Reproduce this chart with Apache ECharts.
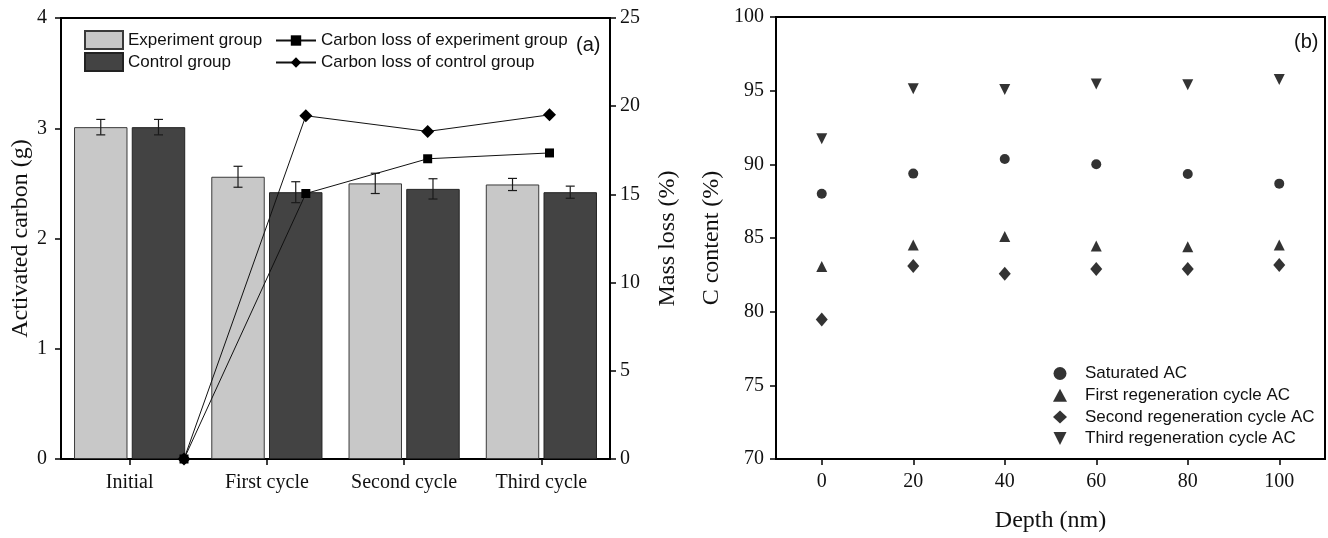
<!DOCTYPE html>
<html><head><meta charset="utf-8">
<script src="https://cdn.jsdelivr.net/npm/echarts@6/dist/echarts.min.js"></script>
<style>html,body{margin:0;padding:0;background:#fff}#c{width:1328px;height:538px}</style>
</head><body><div id="c"></div><script>
// ---- panel (a) data ----
const cycles = ['Initial', 'First cycle', 'Second cycle', 'Third cycle'];
const expMass = [3.01, 2.56, 2.50, 2.49];
const expErr = [0.07, 0.095, 0.092, 0.055];
const ctrlMass = [3.01, 2.42, 2.45, 2.42];
const ctrlErr = [0.07, 0.095, 0.092, 0.055];
const expLoss = [0, 15.05, 17.02, 17.35];
const ctrlLoss = [0, 19.46, 18.57, 19.51];
// ---- panel (b) data ----
const depth = [0, 20, 40, 60, 80, 100];
const saturated = [88.0, 89.37, 90.36, 90.0, 89.34, 88.69];
const firstRegen = [83.07, 84.52, 85.1, 84.45, 84.4, 84.52];
const secondRegen = [79.46, 83.1, 82.57, 82.89, 82.89, 83.16];
const thirdRegen = [91.74, 95.13, 95.08, 95.46, 95.4, 95.75];
const depthTicks = [0, 20, 40, 60, 80, 100];

const SERIF = 'Liberation Serif, Times New Roman, serif';
const SANS = 'Liberation Sans, Arial, sans-serif';
const BAR_CAT_GAP = 0.19, BAR_GAP = 0.08;
const DOWN_TRI = 'path://M0,0L10,0L5,10Z';

function errRender(side) {
  return function (params, api) {
    const ci = api.value(0);
    const lo = api.coord([ci, api.value(1)]);
    const hi = api.coord([ci, api.value(2)]);
    const band = api.size([1, 0])[0];
    const bw = band * (1 - BAR_CAT_GAP) / (2 + BAR_GAP);
    const x = lo[0] + side * bw * (1 + BAR_GAP) / 2;
    const cap = 4.5;
    const st = { stroke: '#1a1a1a', lineWidth: 1.2 };
    return { type: 'group', children: [
      { type: 'line', shape: { x1: x, y1: hi[1], x2: x, y2: lo[1] }, style: st },
      { type: 'line', shape: { x1: x - cap, y1: hi[1], x2: x + cap, y2: hi[1] }, style: st },
      { type: 'line', shape: { x1: x - cap, y1: lo[1], x2: x + cap, y2: lo[1] }, style: st }
    ]};
  };
}

const axLine = { show: true, onZero: false, lineStyle: { color: '#000', width: 2 } };
const axTick = { show: true, length: 6, lineStyle: { color: '#000', width: 1.5 } };
const tickLbl = { fontFamily: SERIF, fontSize: 20, color: '#111' };
const nameStyle = { fontFamily: SERIF, fontSize: 24, color: '#111' };
const legText = { fontFamily: SANS, fontSize: 17, color: '#111' };

const chart = echarts.init(document.getElementById('c'));
chart.setOption({
  animation: false,
  backgroundColor: '#fff',
  grid: [
    { left: 61, right: 718, top: 18, bottom: 79, show: true, borderColor: '#000', borderWidth: 2, backgroundColor: 'transparent' },
    { left: 184, right: 778.5, top: 18, bottom: 79 },
    { left: 776, right: 3, top: 17, bottom: 78, show: true, borderColor: '#000', borderWidth: 2, backgroundColor: 'transparent' }
  ],
  legend: [
    { data: ['Experiment group', 'Control group'], left: 79, top: 25, orient: 'vertical', icon: 'rect',
      itemWidth: 38, itemHeight: 18, itemGap: 2, selectedMode: false, textStyle: legText },
    { data: ['Carbon loss of experiment group', 'Carbon loss of control group'], left: 270, top: 27, orient: 'vertical',
      itemWidth: 40, itemHeight: 13, itemGap: 5, selectedMode: false, textStyle: legText },
    { data: ['Saturated AC', 'First regeneration cycle AC', 'Second regeneration cycle AC', 'Third regeneration cycle AC'],
      left: 1048, top: 360, orient: 'vertical', itemWidth: 14, itemHeight: 13, itemGap: 4.7, selectedMode: false,
      textStyle: Object.assign({ padding: [0, 0, 0, 13] }, legText) }
  ],
  xAxis: [
    { gridIndex: 0, type: 'category', data: cycles, axisLine: axLine,
      axisTick: Object.assign({ alignWithLabel: true }, axTick), axisLabel: Object.assign({ margin: 14, interval: 0 }, tickLbl) },
    { gridIndex: 1, type: 'category', data: cycles, boundaryGap: false, show: false },
    { gridIndex: 2, type: 'value', min: -10, max: 110, name: 'Depth (nm)', nameLocation: 'middle', nameGap: 50,
      nameTextStyle: nameStyle, axisLine: axLine, splitLine: { show: false },
      axisTick: Object.assign({ customValues: depthTicks }, axTick),
      axisLabel: Object.assign({ margin: 13, customValues: depthTicks }, tickLbl) }
  ],
  yAxis: [
    { gridIndex: 0, type: 'value', min: 0, max: 4, interval: 1, name: 'Activated carbon (g)', nameLocation: 'middle', nameGap: 27,
      nameTextStyle: nameStyle, axisLine: axLine, axisTick: axTick, splitLine: { show: false }, axisLabel: Object.assign({ margin: 14 }, tickLbl) },
    { gridIndex: 0, type: 'value', position: 'right', min: 0, max: 25, interval: 5, name: 'Mass loss (%)', nameLocation: 'middle', nameGap: 46,
      nameTextStyle: nameStyle, axisLine: axLine, axisTick: axTick, splitLine: { show: false }, axisLabel: Object.assign({ margin: 10 }, tickLbl) },
    { gridIndex: 1, type: 'value', min: 0, max: 25, show: false, splitLine: { show: false } },
    { gridIndex: 2, type: 'value', min: 70, max: 100, interval: 5, name: 'C content (%)', nameLocation: 'middle', nameGap: 52,
      nameTextStyle: nameStyle, axisLine: axLine, axisTick: axTick, splitLine: { show: false }, axisLabel: Object.assign({ margin: 12 }, tickLbl) }
  ],
  graphic: [
    { type: 'text', left: 576, top: 35, style: { text: '(a)', font: '20px ' + SANS, fill: '#111' } },
    { type: 'text', left: 1294, top: 32, style: { text: '(b)', font: '20px ' + SANS, fill: '#111' } }
  ],
  series: [
    { name: 'Experiment group', type: 'bar', xAxisIndex: 0, yAxisIndex: 0, data: expMass,
      barGap: (BAR_GAP * 100) + '%', barCategoryGap: (BAR_CAT_GAP * 100) + '%',
      itemStyle: { color: '#c8c8c8', borderColor: '#3a3a3a', borderWidth: 1 } },
    { name: 'Control group', type: 'bar', xAxisIndex: 0, yAxisIndex: 0, data: ctrlMass,
      itemStyle: { color: '#434343', borderColor: '#222', borderWidth: 1 } },
    { type: 'custom', xAxisIndex: 0, yAxisIndex: 0, z: 5, renderItem: errRender(-1),
      data: cycles.map((c, i) => [i, expMass[i] - expErr[i], expMass[i] + expErr[i]]) },
    { type: 'custom', xAxisIndex: 0, yAxisIndex: 0, z: 5, renderItem: errRender(1),
      data: cycles.map((c, i) => [i, ctrlMass[i] - ctrlErr[i], ctrlMass[i] + ctrlErr[i]]) },
    { name: 'Carbon loss of control group', type: 'line', xAxisIndex: 1, yAxisIndex: 2, data: ctrlLoss, z: 6,
      symbol: 'diamond', symbolSize: 13, color: '#000', itemStyle: { color: '#000' }, lineStyle: { color: '#111', width: 1 } },
    { name: 'Carbon loss of experiment group', type: 'line', xAxisIndex: 1, yAxisIndex: 2, data: expLoss, z: 7,
      symbol: 'rect', symbolSize: 9, color: '#000', itemStyle: { color: '#000' }, lineStyle: { color: '#111', width: 1 } },
    { name: 'Saturated AC', type: 'scatter', xAxisIndex: 2, yAxisIndex: 3, symbol: 'circle', symbolSize: 10,
      itemStyle: { color: '#000' }, data: depth.map((d, i) => [d, saturated[i]]) },
    { name: 'First regeneration cycle AC', type: 'scatter', xAxisIndex: 2, yAxisIndex: 3, symbol: 'triangle', symbolSize: [11, 11],
      itemStyle: { color: '#000' }, data: depth.map((d, i) => [d, firstRegen[i]]) },
    { name: 'Second regeneration cycle AC', type: 'scatter', xAxisIndex: 2, yAxisIndex: 3, symbol: 'diamond', symbolSize: [12, 14],
      itemStyle: { color: '#000' }, data: depth.map((d, i) => [d, secondRegen[i]]) },
    { name: 'Third regeneration cycle AC', type: 'scatter', xAxisIndex: 2, yAxisIndex: 3, symbol: DOWN_TRI, symbolSize: [11, 11],
      itemStyle: { color: '#000' }, data: depth.map((d, i) => [d, thirdRegen[i]]) }
  ]
});
</script></body></html>
